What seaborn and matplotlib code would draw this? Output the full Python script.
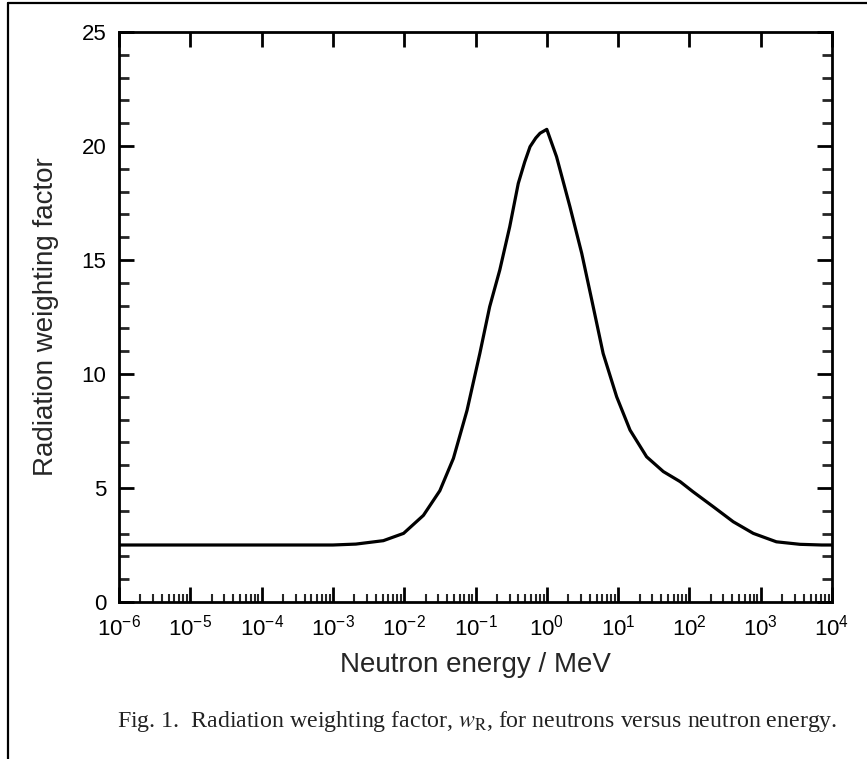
import numpy as np
import pandas as pd
import matplotlib
matplotlib.use('Agg')
import matplotlib.pyplot as plt
import seaborn as sns
from matplotlib.ticker import LogLocator, MultipleLocator, NullFormatter
from matplotlib.lines import Line2D

# Neutron energy (MeV) and radiation weighting factor
energy_mev = [1e-6, 3e-4, 1e-3, 2.1e-3, 5.1e-3, 9.8e-3, 0.0186, 0.0316, 0.049,
              0.076, 0.115, 0.158, 0.219, 0.302, 0.398, 0.49, 0.582, 0.70,
              0.804, 1.0, 1.37, 2.11, 3.09, 4.27, 6.17, 9.55, 14.7, 25.1,
              43.1, 74.1, 112, 216, 412, 787, 1660, 3550, 7160, 1e4]
w_r = [2.5, 2.5, 2.5, 2.54, 2.69, 3.01, 3.8, 4.88, 6.3,
       8.4, 10.9, 12.95, 14.56, 16.46, 18.36, 19.3, 19.97, 20.35,
       20.56, 20.73, 19.53, 17.34, 15.29, 13.25, 10.9, 9.0, 7.54, 6.37,
       5.72, 5.28, 4.84, 4.18, 3.52, 3.01, 2.64, 2.53, 2.5, 2.5]

x_ticks = [10.0 ** p for p in range(-6, 5)]
y_ticks = [0, 5, 10, 15, 20, 25]

caption = r"Fig. 1.  Radiation weighting factor, $\mathit{w}_{\mathrm{R}}$, for neutrons versus neutron energy."

df = pd.DataFrame({'energy': energy_mev, 'wr': w_r})

sns.set_style('ticks')
plt.rcParams['font.family'] = ['Liberation Sans', 'DejaVu Sans']
plt.rcParams['mathtext.fontset'] = 'custom'
plt.rcParams['mathtext.rm'] = 'Liberation Sans'
plt.rcParams['mathtext.it'] = 'Liberation Sans:italic'
plt.rcParams['mathtext.default'] = 'regular'
plt.rcParams['axes.unicode_minus'] = False

fig = plt.figure(figsize=(8.67, 7.59), dpi=100)
ax = fig.add_axes([119 / 867, 1 - 602 / 759, 713 / 867, 570 / 759])

sns.lineplot(data=df, x='energy', y='wr', ax=ax, color='black', linewidth=2.3)

ax.set_xscale('log')
ax.set_xlim(1e-6, 1e4)
ax.set_ylim(0, 25)
ax.set_xticks(x_ticks)
ax.xaxis.set_minor_locator(LogLocator(base=10, subs=np.arange(2, 10), numticks=100))
ax.xaxis.set_minor_formatter(NullFormatter())
ax.set_yticks(y_ticks)
ax.yaxis.set_minor_locator(MultipleLocator(1))

for s in ax.spines.values():
    s.set_linewidth(2.0)
    s.set_color('black')

ax.tick_params(axis='both', which='major', direction='in', length=11, width=2,
               labelsize=16, color='black', labelcolor='black', pad=9)
ax.tick_params(axis='y', which='minor', direction='in', length=7, width=2, right=True)
ax.tick_params(axis='y', which='major', right=True)
ax.tick_params(axis='x', which='minor', direction='in', length=6, width=1.5)
ax.tick_params(axis='x', which='major', top=True)
ax.tick_params(axis='x', which='minor', top=False)

ax.set_xlabel('Neutron energy / MeV', fontsize=20, labelpad=8)
ax.set_ylabel('Radiation weighting factor', fontsize=20, labelpad=16)

# figure frame: top and left lines
fig.add_artist(Line2D([8 / 867, 1], [1 - 3 / 759, 1 - 3 / 759], color='black', lw=1.6,
                      transform=fig.transFigure))
fig.add_artist(Line2D([8 / 867, 8 / 867], [0, 1 - 3 / 759], color='black', lw=1.6,
                      transform=fig.transFigure))

fig.text(477 / 867, 1 - 721 / 759, caption, ha='center', va='center', fontsize=17.2,
         family=['Liberation Serif', 'DejaVu Serif'], math_fontfamily='stix', color='#222222')

fig.savefig('out.png', dpi=100)
